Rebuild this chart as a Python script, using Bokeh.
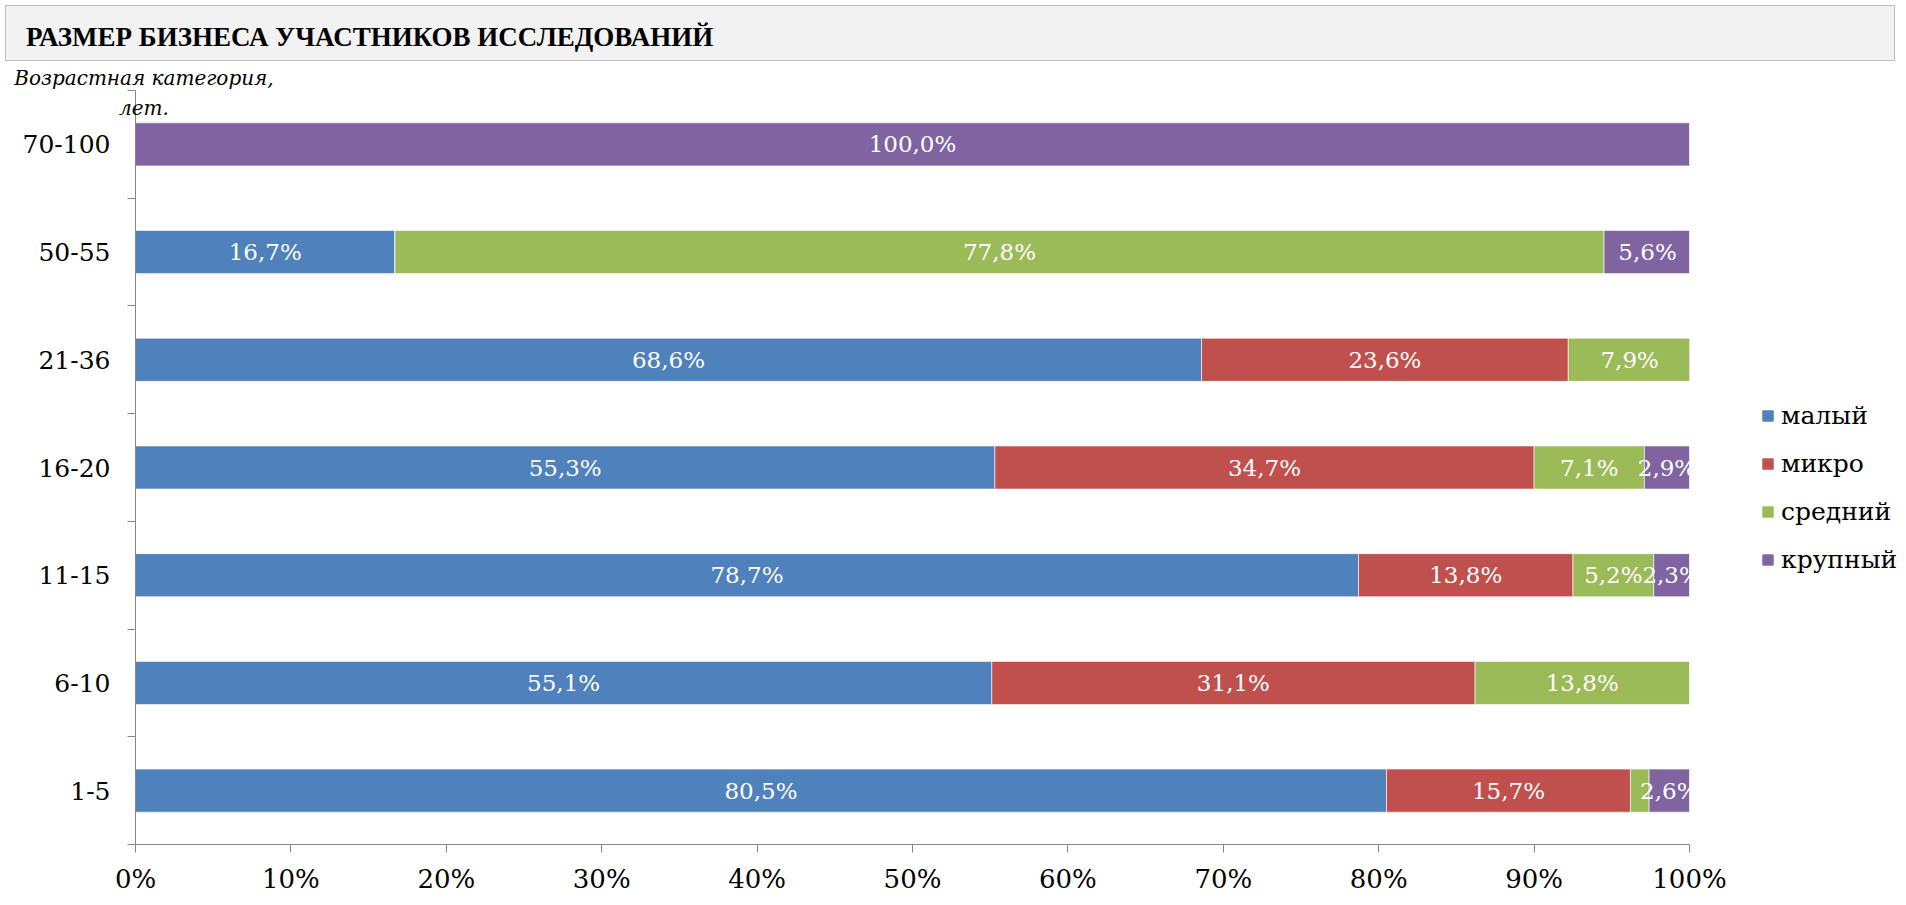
import numpy as np
from bokeh.plotting import figure
from bokeh.models import (ColumnDataSource, Range1d, FixedTicker, Legend, LegendItem, Div)
from bokeh.layouts import column
from bokeh.core.properties import value
from bokeh.embed import file_html
from bokeh.resources import INLINE

# ---- data (bottom to top) ----
categories = ["1-5", "6-10", "11-15", "16-20", "21-36", "50-55", "70-100"]
series_names = ["малый", "микро", "средний", "крупный"]
small = [80.5, 55.1, 78.7, 55.3, 68.6, 16.7, 0.0]
micro = [15.7, 31.1, 13.8, 34.7, 23.6, 0.0, 0.0]
medium = [1.2, 13.8, 5.2, 7.1, 7.9, 77.8, 0.0]
large = [2.6, 0.0, 2.3, 2.9, 0.0, 5.6, 100.0]
x_ticks = [0, 10, 20, 30, 40, 50, 60, 70, 80, 90, 100]
x_tick_labels = ["0%", "10%", "20%", "30%", "40%", "50%", "60%", "70%", "80%", "90%", "100%"]
title_text = "РАЗМЕР БИЗНЕСА УЧАСТНИКОВ ИССЛЕДОВАНИЙ"
axis_title = ["Возрастная категория,", "лет."]

colors = ["#4f81bd", "#c0504d", "#9bbb59", "#8064a2"]
FONT = "DejaVu Serif"

ypos = list(range(len(categories)))
keys = ["s0", "s1", "s2", "s3"]
src = ColumnDataSource(dict(y=ypos, s0=small, s1=micro, s2=medium, s3=large))

p = figure(frame_width=1554, frame_height=754, output_backend="svg", toolbar_location=None,
           x_range=Range1d(0, 100), y_range=Range1d(-0.5, len(categories) - 0.5),
           min_border_left=135, min_border_right=200, min_border_top=24, min_border_bottom=50)
p.outline_line_color = None
p.grid.visible = False
p.background_fill_color = "white"
p.border_fill_color = None

rs = p.hbar_stack(keys, y="y", height=0.4, color=colors, source=src,
                  line_color="white", line_alpha=0.6, line_width=1)

# labels
all_series = [small, micro, medium, large]
lx, ly, lt = [], [], []
cum = np.zeros(len(categories))
for ser in all_series:
    arr = np.array(ser)
    for i, v in enumerate(arr):
        if v >= 2:
            lx.append(cum[i] + v / 2)
            ly.append(ypos[i])
            lt.append(f"{v:.1f}%".replace(".", ","))
    cum = cum + arr
p.text(x=lx, y=ly, text=lt, text_color="white", text_align="center",
       text_baseline="middle", text_font=value(FONT), text_font_size="23px")

# axes
ax = p.xaxis[0]
ax.ticker = FixedTicker(ticks=x_ticks)
ax.major_label_overrides = {t: l for t, l in zip(x_ticks, x_tick_labels)}
ax.axis_line_color = "#868686"
ax.major_tick_line_color = "#868686"
ax.major_tick_out = 8
ax.major_tick_in = 0
ax.minor_tick_line_color = None
ax.major_label_text_font = FONT
ax.major_label_text_font_size = "26px"
ax.major_label_text_color = "black"
ax.major_label_standoff = 11

ay = p.yaxis[0]
ay.ticker = FixedTicker(ticks=ypos, minor_ticks=[i - 0.5 for i in range(len(categories) + 1)])
ay.major_label_overrides = {i: c for i, c in zip(ypos, categories)}
ay.axis_line_color = "#868686"
ay.major_tick_line_color = None
ay.major_tick_out = 0
ay.major_tick_in = 0
ay.minor_tick_line_color = "#868686"
ay.minor_tick_out = 8
ay.minor_tick_in = 0
ay.major_label_text_font = FONT
ay.major_label_text_font_size = "25px"
ay.major_label_text_color = "black"
ay.major_label_standoff = 17

legend = Legend(items=[LegendItem(label=n, renderers=[r]) for n, r in zip(series_names, rs)],
                location=(71, 270), orientation="vertical",
                glyph_width=15, glyph_height=15, label_height=28, spacing=19,
                label_standoff=6, padding=0, margin=0,
                border_line_color=None, background_fill_alpha=0,
                label_text_font=FONT, label_text_font_size="25px", label_text_color="black")
p.add_layout(legend, "right")

html = (title_text +
        '<div style="position:absolute; left:138px; top:57px; transform:translateX(-50%);'
        ' text-align:center; white-space:nowrap; font-family:\'DejaVu Serif\'; font-style:italic;'
        ' font-weight:normal; font-size:20px; line-height:30px; color:black;">'
        + axis_title[0] + '<br>' + axis_title[1] + '</div>')
title = Div(text=html, width=1890, height=56,
            styles={"background-color": "#f2f2f2", "border": "1px solid #bfbfbf",
                    "font-family": "Liberation Serif", "font-weight": "bold",
                    "font-size": "27px", "padding-left": "20px", "padding-top": "6px",
                    "line-height": "50px",
                    "box-sizing": "border-box", "color": "black", "position": "relative",
                    "overflow": "visible", "z-index": "1"})

layout = column(title, p, spacing=0)
open("out.html", "w").write(file_html(layout, INLINE))
